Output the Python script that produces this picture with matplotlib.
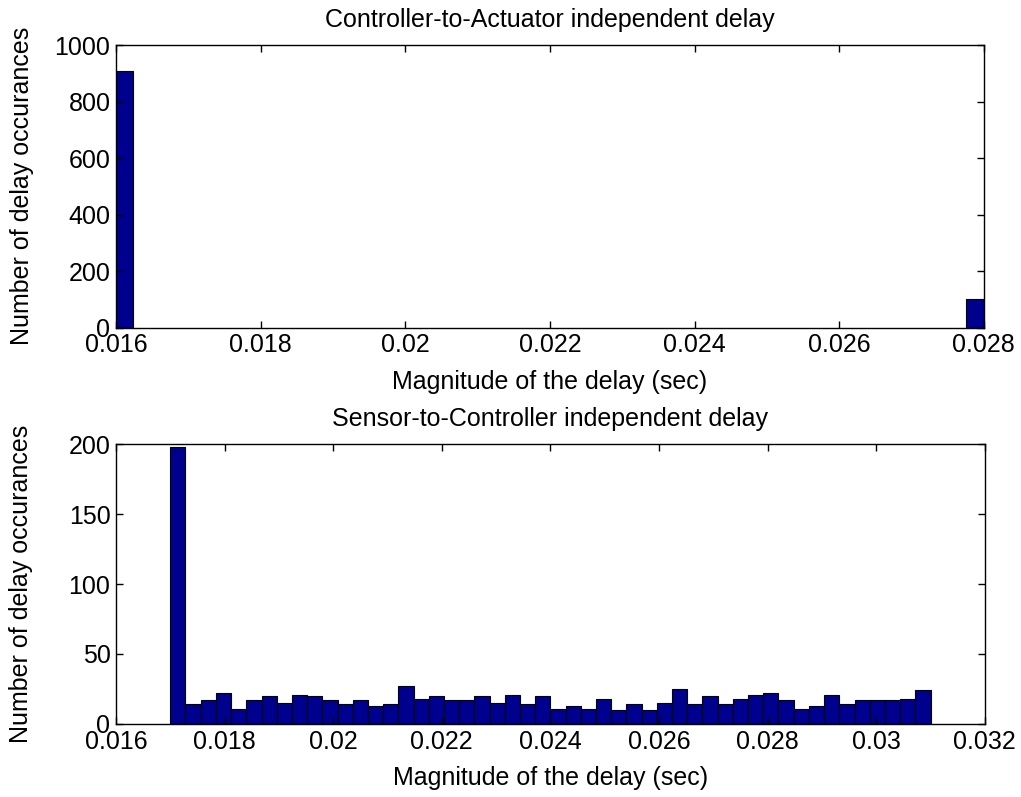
import numpy as np
import matplotlib
matplotlib.use('Agg')
import matplotlib.pyplot as plt

plt.rcParams['font.family'] = ['Liberation Sans', 'DejaVu Sans']
plt.rcParams['font.size'] = 18

# Controller-to-Actuator delay histogram (50 bins over [0.016, 0.028])
ca_range = [0.016, 0.028]
ca_nbins = 50
ca_bin_delay = [0.01612, 0.02788]   # only two bins are occupied
ca_counts = [908, 101]

# Sensor-to-Controller delay histogram (50 bins over [0.017, 0.031])
sc_range = [0.017, 0.031]
sc_counts = [198, 14, 17, 22, 11, 17, 20, 15, 21, 20,
             17, 14, 17, 13, 14, 27, 18, 20, 17, 17,
             20, 15, 21, 14, 20, 11, 13, 11, 18, 10,
             14, 10, 15, 25, 14, 20, 14, 18, 21, 22,
             17, 11, 13, 21, 14, 17, 17, 17, 18, 24]

top_xticks = [0.016, 0.018, 0.020, 0.022, 0.024, 0.026, 0.028]
top_xlabels = ['0.016', '0.018', '0.02', '0.022', '0.024', '0.026', '0.028']
top_yticks = [0, 200, 400, 600, 800, 1000]
bot_xticks = [0.016, 0.018, 0.020, 0.022, 0.024, 0.026, 0.028, 0.030, 0.032]
bot_xlabels = ['0.016', '0.018', '0.02', '0.022', '0.024', '0.026', '0.028', '0.03', '0.032']
bot_yticks = [0, 50, 100, 150, 200]

bar_color = '#00008F'

fig = plt.figure(figsize=(10.21, 7.97), dpi=100)
ax1 = fig.add_axes([0.1136, 0.589, 0.850, 0.3545])
ax2 = fig.add_axes([0.1136, 0.0916, 0.851, 0.3513])

# top plot
ca_width = (ca_range[1] - ca_range[0]) / ca_nbins
ax1.bar(ca_bin_delay, ca_counts, width=ca_width, color=bar_color,
        edgecolor='black', linewidth=0.8)
ax1.set_xlim(ca_range)
ax1.set_ylim(0, 1000)
ax1.set_xticks(top_xticks)
ax1.set_xticklabels(top_xlabels)
ax1.set_yticks(top_yticks)
ax1.set_title('Controller-to-Actuator independent delay', fontsize=18, pad=13)

# bottom plot
sc_edges = np.linspace(sc_range[0], sc_range[1], len(sc_counts) + 1)
ax2.hist(sc_edges[:-1], bins=sc_edges, weights=sc_counts, color=bar_color,
         edgecolor='black', linewidth=0.8)
ax2.set_xlim(0.016, 0.032)
ax2.set_ylim(0, 200)
ax2.set_xticks(bot_xticks)
ax2.set_xticklabels(bot_xlabels)
ax2.set_yticks(bot_yticks)
ax2.set_title('Sensor-to-Controller independent delay', fontsize=18, pad=13)

for ax in (ax1, ax2):
    ax.set_xlabel('Magnitude of the delay (sec)', labelpad=9)
    ax.set_ylabel('Number of delay occurances')
    ax.yaxis.set_label_coords(-0.095, 0.5)
    ax.tick_params(direction='in', top=True, right=True, length=5,
                   width=1, labelsize=18, pad=4)
    for s in ax.spines.values():
        s.set_linewidth(1.0)

plt.savefig('out.png', dpi=100)
plt.close()
